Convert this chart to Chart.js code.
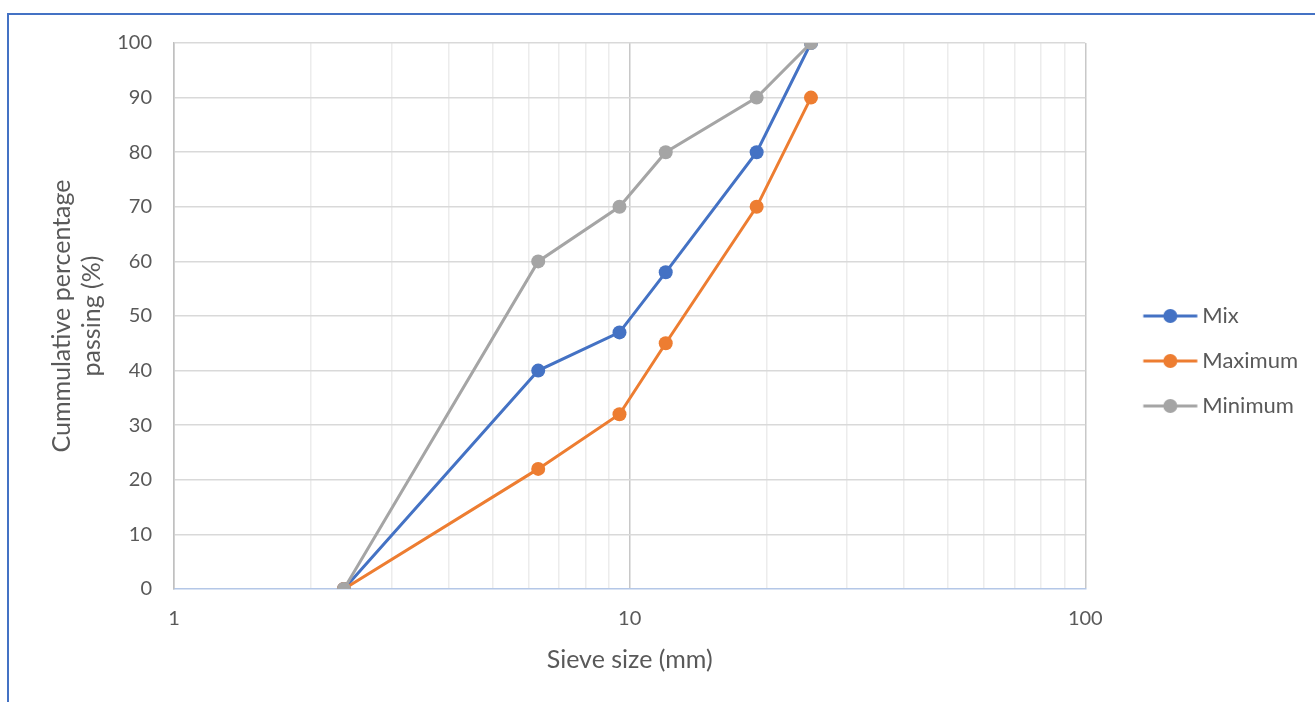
<!DOCTYPE html>
<html>
<head>
<meta charset="utf-8">
<script src="https://cdn.jsdelivr.net/npm/chart.js@4.4.1/dist/chart.umd.min.js"></script>
<style>
  html, body { margin: 0; padding: 0; background: #fff; }
  #wrap { position: relative; width: 1315px; height: 702px; }
  #frame { position: absolute; left: 7px; top: 13px; right: 0; bottom: 0;
           border-left: 2px solid #4472c4; border-top: 2px solid #4472c4; pointer-events: none; }
</style>
</head>
<body>
<div id="wrap">
  <canvas id="chart" width="1315" height="702"></canvas>
  <div id="frame"></div>
</div>
<script>
// sieve sizes (mm) and cumulative % passing
var sieveSizes = [2.36, 6.3, 9.5, 12, 19, 25];
var mixValues = [0, 40, 47, 58, 80, 100];
var maxValues = [0, 22, 32, 45, 70, 90];
var minValues = [0, 60, 70, 80, 90, 100];
var seriesNames = ['Mix', 'Maximum', 'Minimum'];
var seriesColors = ['#4472c4', '#ed7d31', '#a5a5a5'];
var xTickValues = [1, 2, 3, 4, 5, 6, 7, 8, 9, 10, 20, 30, 40, 50, 60, 70, 80, 90, 100];
var xLabelValues = [1, 10, 100];

var textColor = '#595959';
var fontFamily = 'Lato, "Open Sans", sans-serif';

function toPoints(values){
    return sieveSizes.map(function(s, i){ return {x: s, y: values[i]}; });
}

// line-with-dot marker for the legend, like the Excel one
function legendMarker(color){
    var c = document.createElement('canvas');
    c.width = 140; c.height = 18;
    var g = c.getContext('2d');
    g.strokeStyle = color;
    g.lineWidth = 3;
    g.beginPath(); g.moveTo(63.5, 9); g.lineTo(117.5, 9); g.stroke();
    g.fillStyle = color;
    g.beginPath(); g.arc(90.5, 9, 7, 0, Math.PI * 2); g.fill();
    return c;
}
var markers = seriesColors.map(legendMarker);

function makeSeries(idx, values, order){
    return {
        label: seriesNames[idx],
        data: toPoints(values),
        borderColor: seriesColors[idx],
        backgroundColor: seriesColors[idx],
        borderWidth: 3,
        pointRadius: 7,
        pointHoverRadius: 7,
        pointBorderWidth: 0,
        tension: 0,
        order: order
    };
}

new Chart(document.getElementById('chart'), {
    type: 'line',
    data: {
        datasets: [
            makeSeries(0, mixValues, 2),
            makeSeries(1, maxValues, 1),
            makeSeries(2, minValues, 0)
        ]
    },
    options: {
        responsive: false,
        animation: false,
        layout: { padding: { left: 10, top: 43, right: 7, bottom: 23 } },
        plugins: {
            tooltip: { enabled: false },
            legend: {
                position: 'right',
                labels: {
                    usePointStyle: true,
                    pointStyleWidth: 83,
                    padding: 23,
                    color: textColor,
                    font: { family: fontFamily, size: 22 },
                    generateLabels: function(chart){
                        var items = Chart.defaults.plugins.legend.labels.generateLabels(chart);
                        items.forEach(function(it){ it.pointStyle = markers[it.datasetIndex]; });
                        return items.sort(function(a, b){ return a.datasetIndex - b.datasetIndex; });
                    }
                }
            }
        },
        scales: {
            x: {
                type: 'logarithmic',
                min: 1,
                max: 100,
                afterBuildTicks: function(scale){
                    scale.ticks = xTickValues.map(function(v){ return {value: v}; });
                },
                afterFit: function(scale){ scale.height = 90; },
                ticks: {
                    autoSkip: false,
                    maxRotation: 0,
                    padding: 18,
                    color: textColor,
                    font: { family: fontFamily, size: 20 },
                    callback: function(v){ return xLabelValues.indexOf(v) >= 0 ? String(v) : ''; }
                },
                grid: {
                    drawTicks: false,
                    lineWidth: 1.5,
                    color: function(ctx){
                        if (!ctx.tick) return '#ececec';
                        return xLabelValues.indexOf(ctx.tick.value) >= 0 ? '#c8c8c8' : '#ececec';
                    }
                },
                border: { color: '#b4c7e7', width: 1.5 },
                title: {
                    display: true,
                    text: 'Sieve size (mm)',
                    color: textColor,
                    font: { family: fontFamily, size: 25, lineHeight: 1.2 },
                    padding: { top: 0, bottom: 4 }
                }
            },
            y: {
                min: 0,
                max: 100,
                afterFit: function(scale){ scale.width = 164; },
                ticks: {
                    stepSize: 10,
                    padding: 22,
                    color: textColor,
                    font: { family: fontFamily, size: 20 }
                },
                grid: {
                    drawTicks: false,
                    lineWidth: 1.5,
                    color: function(ctx){
                        return ctx.tick && ctx.tick.value === 0 ? 'rgba(0,0,0,0)' : '#d9d9d9';
                    }
                },
                border: { color: '#c0c0c0', width: 1.5 },
                title: {
                    display: true,
                    text: ['Cummulative percentage', 'passing (%)'],
                    color: textColor,
                    font: { family: fontFamily, size: 25, lineHeight: 1.2 },
                    padding: { top: 37, bottom: 37 }
                }
            }
        }
    }
});
</script>
</body>
</html>
